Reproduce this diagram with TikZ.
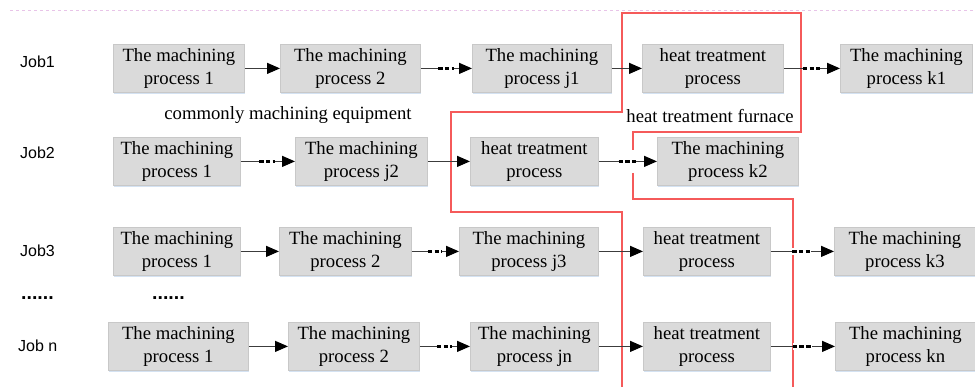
\documentclass[tikz,border=0pt]{standalone}
\usepackage{fontspec}
\setmainfont{Liberation Serif}
\newfontfamily\jobfont{Liberation Sans}
\usetikzlibrary{arrows.meta,calc,shadows}
\definecolor{boxfill}{RGB}{218,218,218}
\definecolor{boxedge}{RGB}{200,200,200}
\definecolor{shadowc}{RGB}{212,226,242}
\definecolor{linegray}{RGB}{60,60,60}
\definecolor{furnred}{RGB}{245,90,90}
\definecolor{pinkdash}{RGB}{232,196,232}
\tikzset{
  box/.style={draw=boxedge, line width=0.8pt, fill=boxfill, anchor=north west,
    minimum height=48pt, inner sep=0pt, align=center,
    font=\fontsize{18.7}{23}\selectfont,
    drop shadow={shadow xshift=0.6pt, shadow yshift=-1.6pt, fill=shadowc, opacity=1}},
  conn/.style={draw=linegray, line width=1.2pt, -{Triangle[length=13pt,width=11pt,color=black]}},
  dotseg/.style={draw=black, line width=2.8pt, dash pattern=on 4.5pt off 2.2pt},
  whiteseg/.style={draw=white, line width=7pt},
  redline/.style={draw=furnred, line width=1.5pt},
  lbl/.style={font=\fontsize{18.7}{23}\selectfont, inner sep=0pt},
  joblbl/.style={font=\jobfont\fontsize{16}{18}\selectfont, inner sep=0pt, anchor=west},
  dotlbl/.style={font=\jobfont\bfseries\fontsize{19.5}{20}\selectfont, inner sep=0pt, anchor=west},
}
\newcommand\dconn[2]{%
  \draw[conn] (#1.east) -- (#2.west);
  \draw[whiteseg] ($(#1.east)!0.34!(#2.west)$) -- ($(#1.east)!0.64!(#2.west)$);
  \draw[dotseg] ($(#1.east)!0.34!(#2.west)$) -- ($(#1.east)!0.64!(#2.west)$);}
\begin{document}
\begin{tikzpicture}[x=1pt,y=-1pt]
\clip (0,0) rectangle (975,387);
\fill[white] (0,0) rectangle (975,387);
\draw[pinkdash, line width=0.8pt, dash pattern=on 3pt off 3pt] (10,10) -- (975,10);

% red furnace boundary
\draw[redline] (622,387) -- (622,212) -- (451,212) -- (451,112) -- (622,112) -- (622,13) -- (801,13) -- (801,132) -- (633,132) -- (633,150);
\draw[redline] (633,173) -- (633,199) -- (793,199) -- (793,387);

% job labels
\node[joblbl] (j1) at (20,62) {Job1};
\node[joblbl] (j2) at (20,153) {Job2};
\node[joblbl] (j3) at (20,251) {Job3};
\node[dotlbl] (jd) at (21,298) {......};
\node[dotlbl] (jd2) at (152,298) {......};
\node[joblbl] (jn) at (18,346) {Job n};

% row 1
\node[box, minimum width=131pt] (b11) at (113,44) {The machining\\process 1};
\node[box, minimum width=140pt] (b12) at (280,44) {The machining\\process 2};
\node[box, minimum width=139pt] (b13) at (472,44) {The machining\\process j1};
\node[box, minimum width=141pt] (h1) at (642,44) {heat treatment\\process};
\node[box, minimum width=132pt] (k1) at (840,44) {The machining\\process k1};
% row 2
\node[box, minimum width=127pt] (b21) at (113,137) {The machining\\process 1};
\node[box, minimum width=132pt] (b22) at (295,137) {The machining\\process j2};
\node[box, minimum width=128pt] (h2) at (470,137) {heat treatment\\process};
\node[box, minimum width=141pt] (k2) at (657,137) {The machining\\process k2};
% row 3
\node[box, minimum width=127pt] (b31) at (113,227) {The machining\\process 1};
\node[box, minimum width=132pt] (b32) at (279,227) {The machining\\process 2};
\node[box, minimum width=139pt] (b33) at (459,227) {The machining\\process j3};
\node[box, minimum width=127pt] (h3) at (643,227) {heat treatment\\process};
\node[box, minimum width=141pt] (k3) at (834,227) {The machining\\process k3};
% row n
\node[box, minimum width=140pt] (bn1) at (108,322) {The machining\\process 1};
\node[box, minimum width=131pt] (bn2) at (288,322) {The machining\\process 2};
\node[box, minimum width=128pt] (bn3) at (470,322) {The machining\\process jn};
\node[box, minimum width=127pt] (hn) at (643,322) {heat treatment\\process};
\node[box, minimum width=140pt] (kn) at (835,322) {The machining\\process kn};

% labels
\node[lbl] (cme) at (288,115) {commonly machining equipment};
\node[lbl] (htf) at (710,116) {heat treatment furnace};

% connectors
\draw[conn] (b11.east) -- (b12.west);
\dconn{b12}{b13}
\draw[conn] (b13.east) -- (h1.west);
\dconn{h1}{k1}

\dconn{b21}{b22}
\draw[conn] (b22.east) -- (h2.west);
\dconn{h2}{k2}

\draw[conn] (b31.east) -- (b32.west);
\dconn{b32}{b33}
\draw[conn] (b33.east) -- (h3.west);
\dconn{h3}{k3}

\draw[conn] (bn1.east) -- (bn2.west);
\dconn{bn2}{bn3}
\draw[conn] (bn3.east) -- (hn.west);
\dconn{hn}{kn}
\end{tikzpicture}
\end{document}
